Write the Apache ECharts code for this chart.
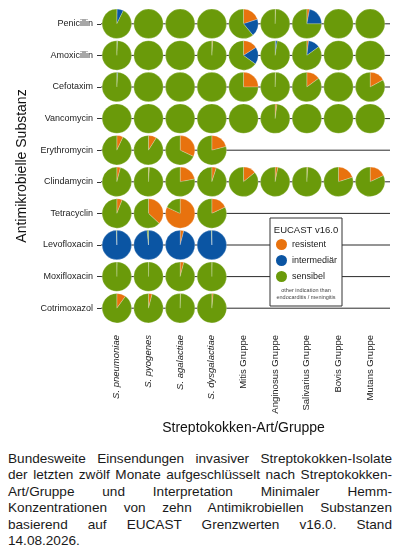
<!DOCTYPE html>
<html>
<head>
<meta charset="utf-8">
<script src="https://cdn.jsdelivr.net/npm/echarts@6/dist/echarts.min.js"></script>
<style>
  html, body { margin: 0; padding: 0; background: #fff; }
  #wrap { position: relative; width: 400px; height: 558px; overflow: hidden; }
  #chart { position: absolute; left: 0; top: 0; width: 400px; height: 445px; }
  .caption {
    position: absolute; left: 8px; top: 450.5px; width: 384px;
    font-family: 'Liberation Sans', Arial, sans-serif; font-size: 13.6px;
    line-height: 16.5px; color: #1a1a1a;
  }
  .caption div { text-align: justify; text-align-last: justify; white-space: nowrap; }
  .caption div.last { text-align-last: left; }
</style>
</head>
<body>
<div id="wrap">
  <div id="chart"></div>
  <div class="caption">
    <div>Bundesweite Einsendungen invasiver Streptokokken-Isolate</div>
    <div>der letzten zwölf Monate aufgeschlüsselt nach Streptokokken-</div>
    <div>Art/Gruppe und Interpretation Minimaler Hemm-</div>
    <div>Konzentrationen von zehn Antimikrobiellen Substanzen</div>
    <div>basierend auf EUCAST Grenzwerten v16.0. Stand</div>
    <div class="last">14.08.2026.</div>
  </div>
</div>
<script>
  // Spalten: Streptokokken-Art/Gruppe
  const species = ['S. pneumoniae', 'S. pyogenes', 'S. agalactiae', 'S. dysgalactiae',
    'Mitis Gruppe', 'Anginosus Gruppe', 'Salivarius Gruppe', 'Bovis Gruppe', 'Mutans Gruppe']
  const italicSpecies = 4
  // Zeilen: antimikrobielle Substanzen
  const substances = ['Penicillin', 'Amoxicillin', 'Cefotaxim', 'Vancomycin', 'Erythromycin',
    'Clindamycin', 'Tetracyclin', 'Levofloxacin', 'Moxifloxacin', 'Cotrimoxazol']

  // Anteile in % (null = nicht getestet)
  const resistent = [
    [0.3, 0, 0, 0, 20, 0.5, 3, 0, 0],
    [0.3, 0, 0, 1, 16, 0.3, 2, 0, 0],
    [0, 0, 0, 0, 25, 0.5, 15, 0, 17],
    [0, 0, 0, 0, 0, 2, 0, 0, 0],
    [7, 9, 32, 21, null, null, null, null, null],
    [4, 1, 22, 5, 14, 3, 1, 20, 18],
    [6, 37, 82, 18, null, null, null, null, null],
    [0, 0, 4, 0, null, null, null, null, null],
    [0.3, 0.3, 4, 0.3, null, null, null, null, null],
    [10, 4, 0.5, 1.5, null, null, null, null, null]
  ]
  const intermediaer = [
    [7, 0, 0, 0, 19, 0, 22, 0, 0],
    [0.5, 0, 0, 0, 19, 2, 13, 0, 0],
    [1, 0, 0, 0, 0, 0, 0, 0, 0],
    [0, 0, 0, 0, 0, 0, 0, 0, 0],
    [0, 0, 0, 0, null, null, null, null, null],
    [0, 0, 0, 0, 0, 0, 0, 0, 0],
    [0, 0, 0, 0, null, null, null, null, null],
    [99.5, 98.5, 96, 99.5, null, null, null, null, null],
    [0, 0, 0, 0, null, null, null, null, null],
    [0, 0, 0, 0, null, null, null, null, null]
  ]
  const sensibel = [
    [92.7, 100, 100, 100, 61, 99.5, 75, 100, 100],
    [99.2, 100, 100, 99, 65, 97.7, 85, 100, 100],
    [99, 100, 100, 100, 75, 99.5, 85, 100, 83],
    [100, 100, 100, 100, 100, 98, 100, 100, 100],
    [93, 91, 68, 79, null, null, null, null, null],
    [96, 99, 78, 95, 86, 97, 99, 80, 82],
    [94, 63, 18, 82, null, null, null, null, null],
    [0.5, 1.5, 0, 0.5, null, null, null, null, null],
    [99.7, 99.7, 96, 99.7, null, null, null, null, null],
    [90, 96, 99.5, 98.5, null, null, null, null, null]
  ]

  const colors = { resistent: '#e8720e', intermediaer: '#0b55a3', sensibel: '#6a9a0a' }
  const font = "'Liberation Sans', Arial, sans-serif"

  const cells = []
  substances.forEach((sub, row) => {
    species.forEach((sp, col) => {
      if (sensibel[row][col] === null) return
      cells.push([col, row, resistent[row][col], intermediaer[row][col], sensibel[row][col]])
    })
  })

  const mychart = echarts.init(document.getElementById('chart'))
  mychart.setOption({
    animation: false,
    grid: { left: 101, top: 8, width: 285, height: 316 },
    xAxis: {
      type: 'category',
      data: species,
      axisLine: { show: false },
      axisTick: { show: false },
      axisLabel: {
        rotate: 90,
        margin: 11,
        fontFamily: font,
        fontSize: 9.5,
        color: '#222',
        formatter: (v, i) => i < italicSpecies ? '{it|' + v + '}' : v,
        rich: { it: { fontStyle: 'italic', fontFamily: font, fontSize: 9.5, color: '#222' } }
      },
      name: 'Streptokokken-Art/Gruppe',
      nameLocation: 'middle',
      nameGap: 95,
      nameTextStyle: { fontFamily: font, fontSize: 14, color: '#111' }
    },
    yAxis: {
      type: 'category',
      data: substances,
      inverse: true,
      axisLine: { show: false },
      axisTick: { show: true, alignWithLabel: true, length: 4, lineStyle: { color: '#333' } },
      axisLabel: { margin: 8, fontFamily: font, fontSize: 9, color: '#222' },
      splitLine: { show: false },
      name: 'Antimikrobielle Substanz',
      nameLocation: 'middle',
      nameGap: 66,
      nameTextStyle: { fontFamily: font, fontSize: 14, color: '#111' }
    },
    legend: {
      data: ['resistent', 'intermediär', 'sensibel'],
      orient: 'vertical',
      left: 276,
      top: 239,
      icon: 'circle',
      itemWidth: 11,
      itemHeight: 11,
      itemGap: 5,
      padding: 0,
      textStyle: { fontFamily: font, fontSize: 9, color: '#222' }
    },
    graphic: [
      {
        type: 'rect', z: 3, x: 270, y: 218,
        shape: { width: 72, height: 88 },
        style: { fill: '#fff', stroke: '#333', lineWidth: 1 }
      },
      {
        type: 'text', z: 5, x: 306, y: 225,
        style: { text: 'EUCAST v16.0', fontFamily: font, fontSize: 9.5, fill: '#222', align: 'center' }
      },
      {
        type: 'text', z: 5, x: 306, y: 287,
        style: {
          text: 'other indication than\nendocarditis / meningitis',
          fontFamily: font, fontSize: 5.5, lineHeight: 7, fill: '#444', align: 'center'
        }
      }
    ],
    series: [
      {
        type: 'custom',
        name: 'lines',
        z: 1,
        silent: true,
        data: substances.map((s, i) => [0, i]),
        renderItem: (params, api) => {
          const y = api.coord([0, api.value(1)])[1]
          const cs = params.coordSys
          return {
            type: 'line',
            shape: { x1: cs.x, y1: y, x2: cs.x + cs.width + 4, y2: y },
            style: { stroke: '#2a2a2a', lineWidth: 1 }
          }
        }
      },
      {
        type: 'custom',
        name: 'cells',
        z: 2,
        data: cells,
        renderItem: (params, api) => {
          const c = api.coord([api.value(0), api.value(1)])
          const r = api.size([1, 1])[0] * 0.465
          const parts = [
            [api.value(2), colors.resistent],
            [api.value(3), colors.intermediaer],
            [api.value(4), colors.sensibel]
          ]
          const total = parts.reduce((a, p) => a + p[0], 0)
          let a0 = -Math.PI / 2
          const children = []
          parts.forEach(p => {
            if (p[0] <= 0) return
            const a1 = a0 + p[0] / total * Math.PI * 2
            children.push({
              type: 'sector',
              shape: { cx: c[0], cy: c[1], r0: 0, r: r, startAngle: a0, endAngle: a1, clockwise: true },
              style: { fill: p[1], stroke: 'rgba(255,255,255,0.45)', lineWidth: 0.5 }
            })
            a0 = a1
          })
          return { type: 'group', children: children }
        }
      },
      { type: 'custom', name: 'resistent', data: [], itemStyle: { color: colors.resistent }, renderItem: () => null },
      { type: 'custom', name: 'intermediär', data: [], itemStyle: { color: colors.intermediaer }, renderItem: () => null },
      { type: 'custom', name: 'sensibel', data: [], itemStyle: { color: colors.sensibel }, renderItem: () => null }
    ]
  })
</script>
</body>
</html>
